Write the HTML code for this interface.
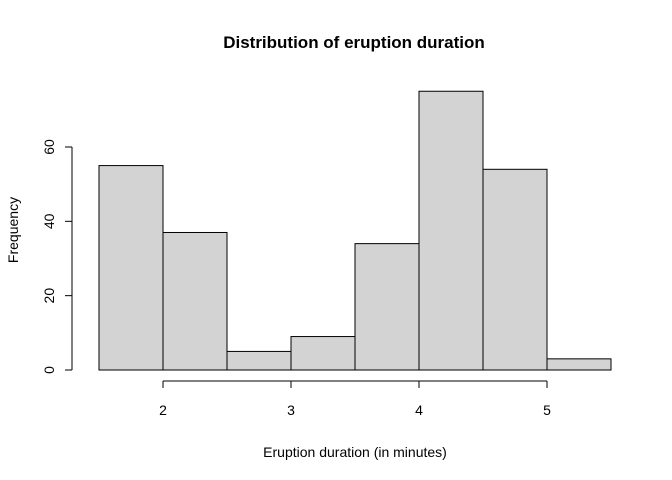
<!DOCTYPE html>
<html>
<head>
<meta charset="utf-8">
<style>
html,body{margin:0;padding:0;background:#fff;}
svg{display:block;font-family:"Liberation Sans",Arial,sans-serif;}
</style>
</head>
<body>
<svg id="chart" width="672" height="480" viewBox="0 0 672 480">
<text x="354" y="48" text-anchor="middle" font-size="17" font-weight="bold">Distribution of eruption duration</text>
<text x="355" y="457" text-anchor="middle" font-size="14">Eruption duration (in minutes)</text>
<text transform="translate(18,230) rotate(-90)" text-anchor="middle" font-size="14">Frequency</text>
<g id="bars"></g>
<g id="xaxis"></g>
<g id="yaxis"></g>
</svg>
<script>
const binStarts = [1.5, 2, 2.5, 3, 3.5, 4, 4.5, 5];
const binWidth = 0.5;
const counts = [55, 37, 5, 9, 34, 75, 54, 3];
const xTicks = [2, 3, 4, 5];
const yTicks = [0, 20, 40, 60];

const NS = "http://www.w3.org/2000/svg";
function xs(v){ return 163 + (v - 2) * 128; }
function ys(v){ return 370 - v * (223 / 60); }
function mk(tag, attrs, parent){
  const e = document.createElementNS(NS, tag);
  for (const k in attrs) e.setAttribute(k, attrs[k]);
  parent.appendChild(e);
  return e;
}
const bars = document.getElementById('bars');
binStarts.forEach((b, i) => {
  const x0 = xs(b), x1 = xs(b + binWidth), y = ys(counts[i]);
  const r = mk('rect', {x: x0, y: y, width: x1 - x0, height: ys(0) - y, fill: '#d3d3d3', stroke: '#000', 'stroke-width': 1}, bars);
  
  
});
const xa = document.getElementById('xaxis');


mk('line', {x1: xs(xTicks[0]), x2: xs(xTicks[xTicks.length-1]), y1: 381, y2: 381, stroke: '#000'}, xa);
xTicks.forEach(t => {
  mk('line', {x1: xs(t), x2: xs(t), y1: 381, y2: 388, stroke: '#000'}, xa);
  const tx = mk('text', {x: xs(t), y: 415, 'text-anchor': 'middle', 'font-size': 14}, xa);
  tx.textContent = t;
  
  
});
const ya = document.getElementById('yaxis');


mk('line', {x1: 72, x2: 72, y1: ys(yTicks[0]), y2: ys(yTicks[yTicks.length-1]), stroke: '#000'}, ya);
yTicks.forEach(t => {
  mk('line', {x1: 65, x2: 72, y1: ys(t), y2: ys(t), stroke: '#000'}, ya);
  const tx = mk('text', {transform: 'translate(54,' + ys(t) + ') rotate(-90)', 'text-anchor': 'middle', 'font-size': 14}, ya);
  tx.textContent = t;
  
  
});
</script>
</body>
</html>
